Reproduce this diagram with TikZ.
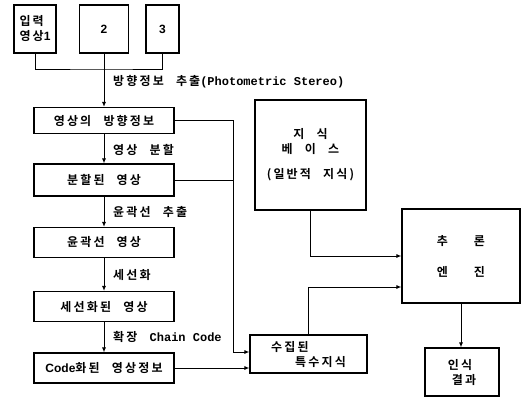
\documentclass[tikz,border=0pt]{standalone}
\usepackage{fontspec}
\newfontfamily\kr{Noto Sans CJK KR}[UprightFont={* Bold}, LetterSpace=18, WordSpace=2.5]
\newfontfamily\mono{Liberation Mono}[UprightFont={* Bold}]
\newfontfamily\latin{Liberation Sans}[UprightFont={* Bold}]
\usetikzlibrary{calc, arrows.meta}

\begin{document}
\begin{tikzpicture}[x=1pt, y=-1pt,
    box/.style={draw, line width=1.1pt, inner sep=0pt, font=\kr\fontsize{12}{15}\selectfont},
    stage/.style={box, minimum width=140, minimum height=30},
    lbl/.style={anchor=west, inner sep=0pt, font=\kr\fontsize{12}{15}\selectfont},
    line/.style={line width=1pt},
    arr/.style={line width=1pt, -{Latex[length=5pt,width=4pt]}}]
\useasboundingbox (0,0) rectangle (522,397);

% input images
\node[box, minimum width=42, minimum height=48, align=left] (in1) at (35,29) {입력\\영상{\latin 1}};
\foreach \n/\x/\w in {2/104/49, 3/162.5/33} {
    \node[box, minimum width=\w, minimum height=48, font=\latin\fontsize{12}{15}\selectfont] (in\n) at (\x,29) {\n};
}

% processing stages
\node[stage, minimum height=26] (dir) at (104,120.5) {영상의 방향정보};
\node[stage, minimum height=32] (seg) at (104,180) {분할된\quad 영상};
\node[stage] (cont) at (104,242.5) {윤곽선\quad 영상};
\node[stage] (thin) at (104,306.5) {세선화된 영상};
\node[stage] (code) at (104,368) {{\latin Code}화된 영상정보};

\node[lbl] (l1) at (113,82) {방향정보 추출{\mono(Photometric Stereo)}};
\node[lbl] (l2) at (113,150) {영상 분할};
\node[lbl] (l3) at (113,212) {윤곽선 추출};
\node[lbl] (l4) at (113,275) {세선화};
\node[lbl] (l5) at (113,337) {확장 {\mono Chain Code}};

% knowledge and inference
\node[box, minimum width=111, minimum height=110, align=center] (kb) at (310.5,155)
    {지 식\\베 이 스\\[10pt](일반적 지식)};
\node[box, minimum width=117, minimum height=38, align=left] (spec) at (308.5,354)
    {수집된\\\hspace*{24pt}특수지식};
\node[box, minimum width=118, minimum height=94, align=center] (eng) at (461,256)
    {추\hspace{26pt}론\\[16pt]엔\hspace{26pt}진};
\node[box, minimum width=74, minimum height=48, align=left] (res) at (462,372)
    {인식\\\hspace*{4pt}결과};

% connectors
\coordinate (bus) at (104,69);
\coordinate (rail) at (233,352);
\coordinate (engin) at ($(eng.west)+(0,31)$);
\draw[line] (in1.south) |- (bus) -| (in3.south);
\draw[arr] (in2.south) -- (dir.north);
\foreach \a/\b in {dir/seg, seg/cont, cont/thin, thin/code} {
    \draw[arr] (\a) -- (\b);
}
\draw[arr] (dir.east) -| (rail) -- (rail -| spec.west);
\draw[line] (seg.east) -- (seg.east -| rail);
\draw[arr] (code.east) -- (code.east -| spec.west);
\draw[arr] (kb.south) |- (eng.west);
\draw[arr] (spec.north) |- (engin);
\draw[arr] (eng.south) -- (eng.south |- res.north);
\end{tikzpicture}
\end{document}
